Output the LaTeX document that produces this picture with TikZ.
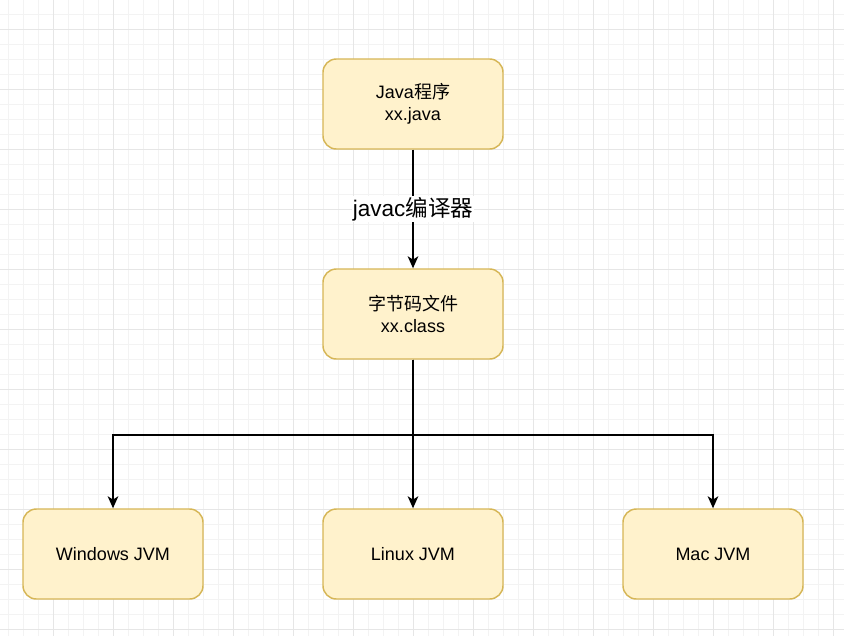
\documentclass[tikz,border=0pt]{standalone}
\usepackage{fontspec}
\setmainfont{Liberation Sans}
\newfontfamily\cjk{Noto Sans CJK SC}
\usetikzlibrary{arrows.meta}
\definecolor{boxfill}{HTML}{FFF2CC}
\definecolor{boxline}{HTML}{D6B656}
\definecolor{gminor}{HTML}{F3F3F3}
\definecolor{gmajor}{HTML}{E6E6E6}
\begin{document}
\begin{tikzpicture}[x=0.75pt,y=-0.75pt,
  box/.style={draw=boxline, fill=boxfill, line width=1.1pt, rounded corners=10pt,
    minimum width=135pt, minimum height=67.5pt, align=center,
    font=\fontsize{13.5pt}{16.2pt}\selectfont, text=black},
  arr/.style={line width=1.1pt, -{Stealth[length=9pt,width=8pt,inset=2.5pt]}},
  lbl/.style={fill=white, inner sep=1pt, font=\fontsize{16.9pt}{20pt}\selectfont}]
\useasboundingbox (0,0) rectangle (844,636);
\fill[white] (0,0) rectangle (844,636);
\foreach \x in {8,23,...,843} \draw[gminor, line width=0.75pt] (\x,0) -- (\x,636);
\foreach \y in {14,29,...,635} \draw[gminor, line width=0.75pt] (0,\y) -- (844,\y);
\foreach \x in {53,113,...,843} \draw[gmajor, line width=0.75pt] (\x,0) -- (\x,636);
\foreach \y in {29,89,...,635} \draw[gmajor, line width=0.75pt] (0,\y) -- (844,\y);

\node[box] (java) at (413,104) {Java{\cjk 程序}\\xx.java};
\node[box] (cls) at (413,314) {{\cjk 字节码文件}\\xx.class};
\node[box] (win) at (113,554) {Windows JVM};
\node[box] (lin) at (413,554) {Linux JVM};
\node[box] (mac) at (713,554) {Mac JVM};
\coordinate (j) at (413,435);

\draw[arr] (java) -- node[lbl] {javac{\cjk 编译器}} (cls);
\draw[arr] (cls) -- (j) -| (win);
\draw[arr] (cls) -- (lin);
\draw[arr] (cls) -- (j) -| (mac);
\end{tikzpicture}
\end{document}
